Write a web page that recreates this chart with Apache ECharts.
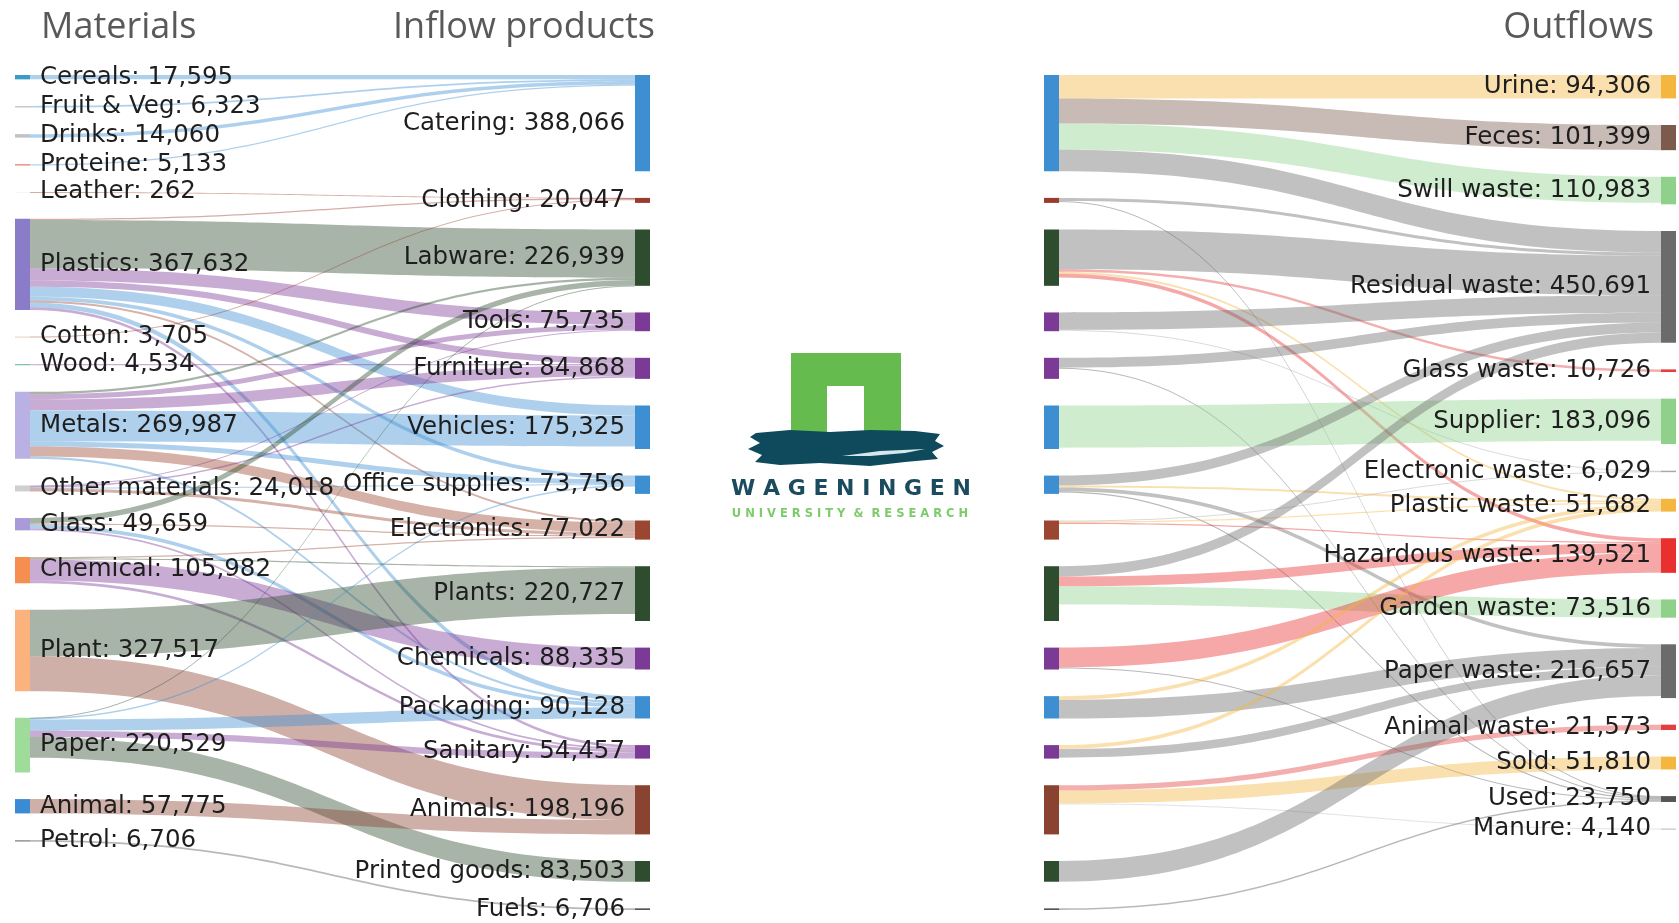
<!DOCTYPE html>
<html><head><meta charset="utf-8">
<script src="https://cdn.jsdelivr.net/npm/echarts@6/dist/echarts.min.js"></script>
<style>html,body{margin:0;padding:0;background:#fff}#c{width:1679px;height:923px}</style>
</head><body><div id="c"></div>
<script>
// ---------- data ----------
const materials = ['Cereals','Fruit & Veg','Drinks','Proteine','Leather','Plastics','Cotton','Wood','Metals','Other materials','Glass','Chemical','Plant','Paper','Animal','Petrol'];
const materialValues = [17595,6323,14060,5133,262,367632,3705,4534,269987,24018,49659,105982,327517,220529,57775,6706];

const products = ['Catering','Clothing','Labware','Tools','Furniture','Vehicles','Office supplies','Electronics','Plants','Chemicals','Packaging','Sanitary','Animals','Printed goods','Fuels'];
const productValues = [388066,20047,226939,75735,84868,175325,73756,77022,220727,88335,90128,54457,198196,83503,6706];

const outflows = ['Urine','Feces','Swill waste','Residual waste','Glass waste','Supplier','Electronic waste','Plastic waste','Hazardous waste','Garden waste','Paper waste','Animal waste','Sold','Used','Manure'];
const outflowValues = [94306,101399,110983,450691,10726,183096,6029,51682,139521,73516,216657,21573,51810,23750,4140];

const materialToProduct = [
  ['Cereals','Catering',17595],['Fruit & Veg','Catering',6323],['Drinks','Catering',14060],['Proteine','Catering',5133],
  ['Leather','Clothing',262],
  ['Plastics','Clothing',5024],['Plastics','Labware',193976],['Plastics','Tools',50000],['Plastics','Furniture',25000],
  ['Plastics','Vehicles',40000],['Plastics','Office supplies',15000],['Plastics','Electronics',8000],['Plastics','Packaging',20000],['Plastics','Sanitary',10632],
  ['Cotton','Clothing',3705],['Wood','Furniture',4534],
  ['Metals','Labware',10000],['Metals','Tools',20000],['Metals','Furniture',45000],['Metals','Vehicles',125000],
  ['Metals','Office supplies',20000],['Metals','Electronics',40000],['Metals','Packaging',9987],
  ['Other materials','Tools',3000],['Other materials','Furniture',6000],['Other materials','Office supplies',3018],['Other materials','Electronics',12000],
  ['Glass','Labware',21939],['Glass','Electronics',5000],['Glass','Packaging',15000],['Glass','Sanitary',7720],
  ['Chemical','Electronics',5000],['Chemical','Plants',5000],['Chemical','Chemicals',85000],['Chemical','Sanitary',10982],
  ['Plant','Plants',187096],['Plant','Animals',140421],
  ['Paper','Labware',1024],['Paper','Office supplies',6000],['Paper','Packaging',45141],['Paper','Sanitary',25123],['Paper','Printed goods',83503],
  ['Animal','Animals',57775],['Petrol','Fuels',6706]
];

const productToOutflow = [
  ['Catering','Urine',94306],['Catering','Feces',101399],['Catering','Swill waste',105000],['Catering','Residual waste',87361],
  ['Clothing','Residual waste',12000],['Clothing','Used',4000],
  ['Labware','Residual waste',160000],['Labware','Glass waste',10726],['Labware','Plastic waste',8000],['Labware','Hazardous waste',15000],
  ['Tools','Residual waste',70000],['Tools','Electronic waste',2000],
  ['Furniture','Residual waste',40000],['Furniture','Used',4000],
  ['Vehicles','Supplier',170000],
  ['Office supplies','Residual waste',40000],['Office supplies','Plastic waste',8000],['Office supplies','Paper waste',15000],['Office supplies','Used',5000],
  ['Electronics','Electronic waste',4029],['Electronics','Plastic waste',5000],['Electronics','Hazardous waste',5000],
  ['Plants','Residual waste',41330],['Plants','Hazardous waste',39521],['Plants','Garden waste',73516],
  ['Chemicals','Hazardous waste',80000],['Chemicals','Used',3335],
  ['Packaging','Paper waste',75000],['Packaging','Plastic waste',15128],
  ['Sanitary','Plastic waste',15554],['Sanitary','Paper waste',35000],
  ['Animals','Animal waste',21573],['Animals','Sold',51810],['Animals','Manure',4140],
  ['Printed goods','Paper waste',83503],
  ['Fuels','Used',6706]
];

// ---------- styles ----------
const materialColors = ['#3a9cc4','#c9c9c9','#bfc3c9','#e0806e','#2f93a0','#8a7cc9','#d9cfbf','#6fb7a6','#b9b1e3','#cfcfcf','#a99bd9','#f58f4f','#fbb27c','#9fdc9a','#3b8bd4','#a0a0a0'];
const productColors = ['#3d8fd1','#9b3b2b','#2e4d2e','#7c3a97','#7c3a97','#3d8fd1','#3d8fd1','#9b4630','#2e4d2e','#7c3a97','#3d8fd1','#7c3a97','#8b4331','#2e4d2e','#555555'];
const outflowColors = ['#f4b63f','#7c5a4c','#8fd18a','#6b6b6b','#e23f3f','#8fd18a','#a8a8a8','#f4b63f','#e8302e','#8fd18a','#6b6b6b','#e23f3f','#f4b63f','#555555','#b9b9b9'];

const fmt = v => String(v).replace(/\B(?=(\d{3})+(?!\d))/g, ',');
function makeNodes(names, values, colors, depth) {
  return names.map((n, i) => ({ name: n, value: values[i], depth: depth, itemStyle: { color: colors[i] } }));
}
function makeLinks(arr) { return arr.map(l => ({ source: l[0], target: l[1], value: l[2] })); }

const labelFont = { fontFamily: 'DejaVu Sans', fontSize: 24.5, color: '#1e1e1e', distance: 10,
  formatter: p => p.name + ': ' + fmt(p.value) };
const common = {
  type: 'sankey', top: 75, bottom: 13, nodeWidth: 15, nodeGap: 26.6,
  layoutIterations: 0, nodeAlign: 'left', draggable: false, silent: true,
  emphasis: { disabled: true },
  lineStyle: { color: 'target', opacity: 0.42, curveness: 0.5 },
  itemStyle: { borderWidth: 0 },
  label: labelFont
};

const chart = echarts.init(document.getElementById('c'), null, { renderer: 'canvas' });
chart.setOption({
  backgroundColor: '#ffffff',
  animation: false,
  series: [
    Object.assign({}, common, {
      left: 15, right: 1029,
      data: makeNodes(materials, materialValues, materialColors, 0).concat(makeNodes(products, productValues, productColors, 1)),
      links: makeLinks(materialToProduct),
      levels: [{ depth: 0, label: { position: 'right' } }, { depth: 1, label: { position: 'left' } }]
    }),
    Object.assign({}, common, {
      left: 1044, right: 3,
      data: makeNodes(products, productValues, productColors, 0).concat(makeNodes(outflows, outflowValues, outflowColors, 1)),
      links: makeLinks(productToOutflow),
      levels: [{ depth: 0, label: { show: false } }, { depth: 1, label: { position: 'left' } }]
    })
  ],
  graphic: [
    { type: 'text', x: 41, y: 28, style: { text: 'Materials', font: '36px "Open Sans"', fill: '#595959', textVerticalAlign: 'middle' } },
    { type: 'text', x: 655, y: 28, style: { text: 'Inflow products', font: '36px "Open Sans"', fill: '#595959', textAlign: 'right', textVerticalAlign: 'middle' } },
    { type: 'text', x: 1654, y: 28, style: { text: 'Outflows', font: '36px "Open Sans"', fill: '#595959', textAlign: 'right', textVerticalAlign: 'middle' } },
    // logo
    { type: 'rect', shape: { x: 791, y: 353, width: 110, height: 88 }, style: { fill: '#66bb4f' } },
    { type: 'rect', shape: { x: 827, y: 386, width: 37, height: 56 }, style: { fill: '#ffffff' } },
    { type: 'polygon', shape: { points: [[756,433],[790,430],[830,432],[870,430],[915,431],[940,434],[935,441],[944,446],[932,452],[938,459],[905,462],[870,466],[820,463],[780,465],[755,462],[762,455],[748,449],[760,443],[750,437]] }, style: { fill: '#0e4a5c' } },
    { type: 'polygon', shape: { points: [[842,456],[880,451],[925,449],[905,453],[870,456]] }, style: { fill: '#d6e8ee' } },
    { type: 'text', x: 851, y: 489, style: { text: 'W A G E N I N G E N', font: 'bold 22px "DejaVu Sans"', fill: '#1b4b5e', textAlign: 'center', textVerticalAlign: 'middle' } },
    { type: 'text', x: 850, y: 514, style: { text: 'U N I V E R S I T Y  &  R E S E A R C H', font: 'bold 11.5px "DejaVu Sans"', fill: '#7dcb6b', textAlign: 'center', textVerticalAlign: 'middle' } }
  ]
});
</script>
</body></html>
